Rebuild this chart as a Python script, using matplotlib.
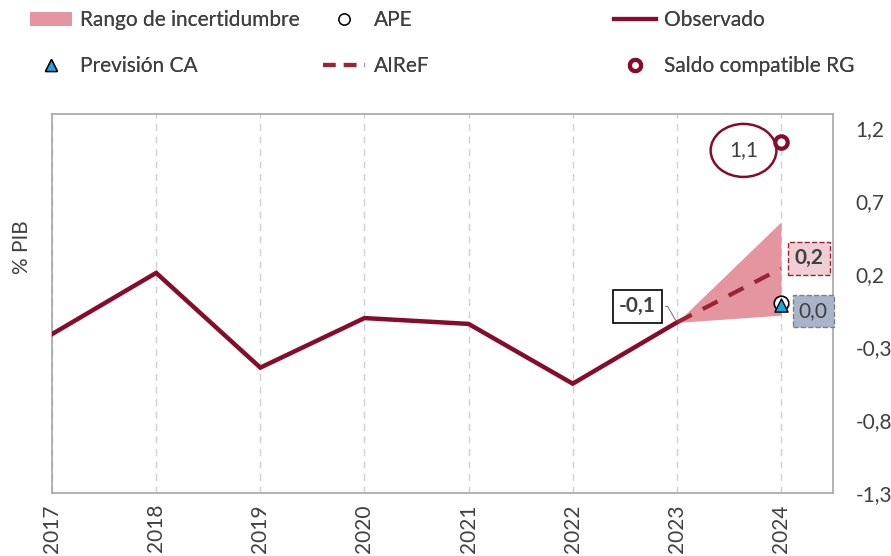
import matplotlib
matplotlib.use("Agg")
import matplotlib.pyplot as plt
from matplotlib.patches import Patch
from matplotlib.lines import Line2D

plt.rcParams['font.family'] = ['Lato', 'DejaVu Sans']

years = [2017, 2018, 2019, 2020, 2021, 2022, 2023, 2024]
observado = [-0.21, 0.21, -0.44, -0.10, -0.14, -0.55, -0.13]
airef_years = [2023, 2024]
airef = [-0.13, 0.24]
rango_low = [-0.13, -0.08]
rango_high = [-0.13, 0.56]
ape = 0.0
prevision_ca = -0.01
saldo_rg = 1.11
yticks = [-1.3, -0.8, -0.3, 0.2, 0.7, 1.2]

red = '#870c2b'
dash_red = '#9b2335'
pink = '#e4959f'
grey_txt = '#404040'


def fmt(v):
  return ("%.1f" % v).replace(".", ",")


def main():
  fig = plt.figure(figsize=(8.91, 5.56), dpi=100)
  ax = fig.add_axes([0.0584, 0.1133, 0.8766, 0.6817])

  ax.fill_between(airef_years, rango_low, rango_high, color=pink, lw=0, zorder=2)
  ax.plot(years[:7], observado, color=red, lw=3.2, zorder=3, solid_joinstyle='miter')
  ax.plot(airef_years, airef, color=dash_red, lw=3, dashes=(4, 3), zorder=4)
  ax.scatter([2024], [ape], s=110, facecolor='white', edgecolor='black', lw=1.2, zorder=5)
  ax.scatter([2024], [prevision_ca], s=90, marker='^', facecolor='#1fa6e0', edgecolor='black', lw=1, zorder=6)
  ax.scatter([2024], [saldo_rg], s=80, facecolor='white', edgecolor=red, lw=3, zorder=5)

  ax.set_xlim(2017, 2024.5)
  ax.set_ylim(-1.3, 1.3)
  ax.set_xticks(years)
  ax.set_xticklabels([str(y) for y in years], rotation=90, fontsize=15, color=grey_txt)
  ax.set_yticks(yticks)
  ax.set_yticklabels([fmt(v) for v in yticks], fontsize=15, color=grey_txt)
  ax.yaxis.tick_right()
  ax.tick_params(axis='both', length=0)
  ax.tick_params(axis='y', pad=16)
  ax.tick_params(axis='x', pad=8)
  ax.grid(axis='x', color='#d0d0d0', ls=(0, (5, 4)), lw=1)
  ax.grid(axis='y', visible=False)
  for s in ax.spines.values():
    s.set_color('#a6a6a6')
    s.set_linewidth(1.2)
  fig.text(0.025, 0.555, "% PIB", rotation=90, fontsize=15, color=grey_txt, va='center', ha='center')

  # etiquetas
  ax.annotate(fmt(observado[-1]), xy=(2023, observado[-1]), xytext=(2022.62, -0.02),
              fontsize=15, fontweight='bold', color=grey_txt, ha='center', va='center',
              bbox=dict(boxstyle='square,pad=0.3', fc='white', ec='black', lw=1.2),
              arrowprops=dict(arrowstyle='-', color='#808080', lw=0.8,
                              connectionstyle='angle,angleA=0,angleB=-60,rad=0'))
  ax.text(2024.27, 0.31, fmt(airef[-1]), fontsize=15, fontweight='bold', color=grey_txt,
          ha='center', va='center',
          bbox=dict(boxstyle='square,pad=0.3', fc='#efcfd3', ec=dash_red, lw=1, ls='--'))
  ax.annotate(fmt(ape), xy=(2024, ape), xytext=(2024.31, -0.05),
              fontsize=15, color=grey_txt, ha='center', va='center',
              bbox=dict(boxstyle='square,pad=0.3', fc='#a9b4c8', ec='#808080', lw=1, ls='--'),
              arrowprops=dict(arrowstyle='-', color='#808080', lw=0.8))
  ax.annotate(fmt(saldo_rg), xy=(2024, saldo_rg), xytext=(2023.64, 1.05),
              fontsize=15, color=grey_txt, ha='center', va='center',
              bbox=dict(boxstyle='ellipse,pad=0.42', fc='white', ec=red, lw=1.8),
              arrowprops=dict(arrowstyle='-', color='#808080', lw=0.8,
                              connectionstyle='angle,angleA=0,angleB=30,rad=0'))

  cols = [
    ([Patch(facecolor=pink, edgecolor='none', label='Rango de incertidumbre'),
      Line2D([], [], ls='none', marker='^', ms=9, mfc='#1fa6e0', mec='black', label='Previsión CA')], 0.027),
    ([Line2D([], [], ls='none', marker='o', ms=8, mfc='white', mec='black', label='APE'),
      Line2D([], [], color=dash_red, lw=3, dashes=(3, 2), label='AIReF')], 0.356),
    ([Line2D([], [], color=red, lw=3, label='Observado'),
      Line2D([], [], ls='none', marker='o', ms=8, mfc='white', mec=red, mew=3, label='Saldo compatible RG')], 0.682),
  ]
  for h, x in cols:
    leg = fig.legend(handles=h, loc='upper left', bbox_to_anchor=(x, 0.993),
                     frameon=False, fontsize=15, labelcolor=grey_txt, handlelength=2.0,
                     handletextpad=0.4, labelspacing=1.25, borderaxespad=0, borderpad=0.3)
    fig.add_artist(leg)

  fig.savefig("out.png", dpi=100)


if __name__ == "__main__":
  main()
